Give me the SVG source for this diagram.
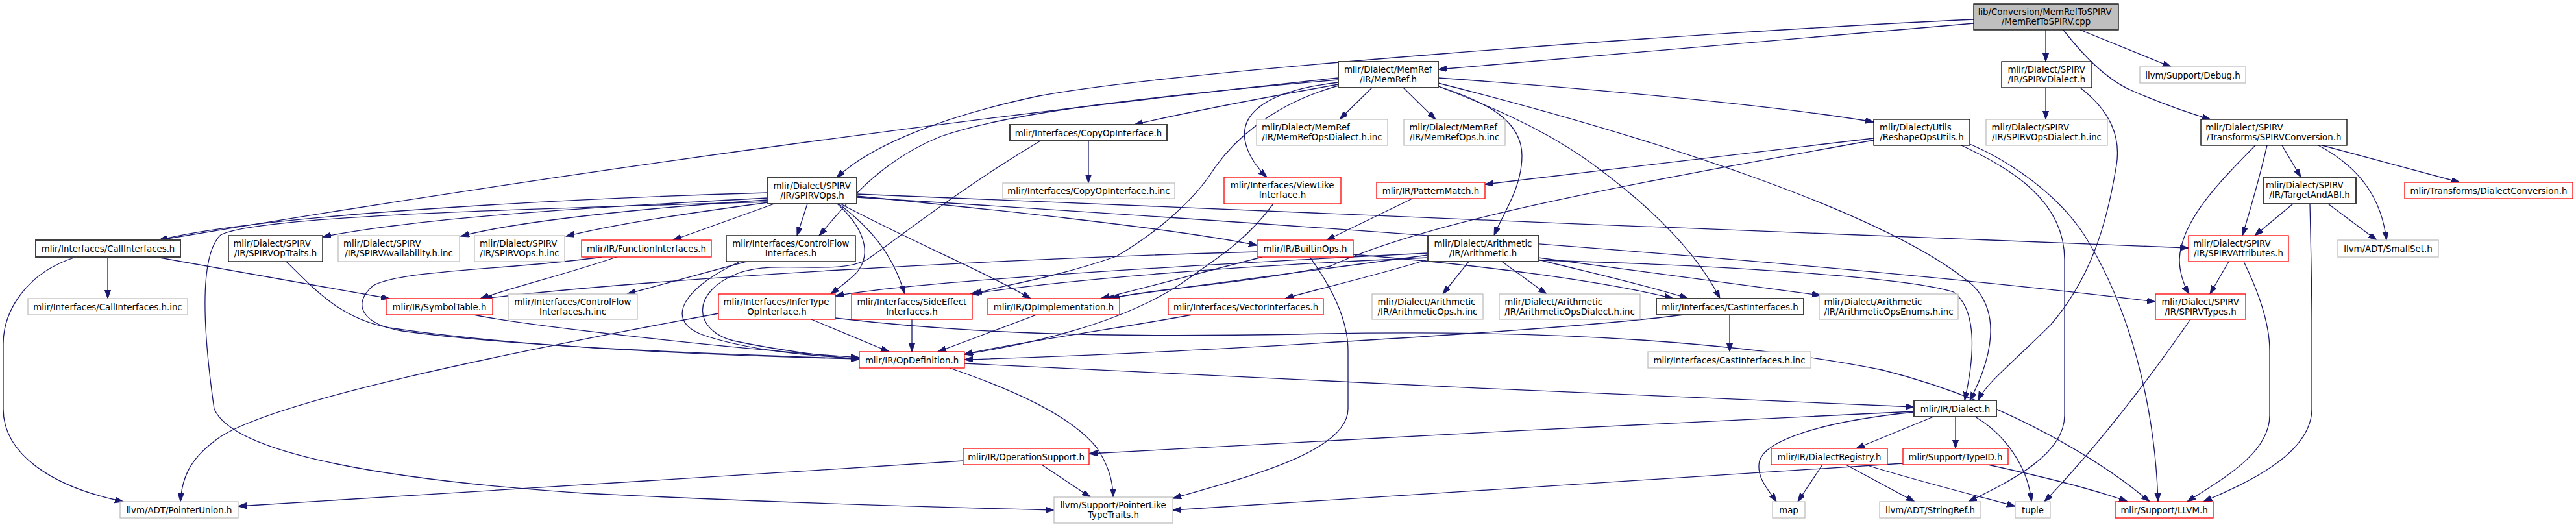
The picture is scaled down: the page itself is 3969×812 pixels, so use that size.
<svg xmlns="http://www.w3.org/2000/svg" width="3969" height="812" viewBox="0 0 3969 812">
<style>
.nd rect{fill:#fff;stroke:#000;stroke-width:1.3}
.nd.g rect{stroke:#bfbfbf}
.nd.r rect{stroke:#ff0000}
.nd.d rect{stroke:#404040;stroke-width:2}
.nd.top rect{fill:#bfbfbf}
text{font-family:"DejaVu Sans","Liberation Sans",sans-serif;font-size:13.33px;fill:#000}
text.c{text-anchor:middle}
#edges path{fill:none;stroke:#191970;stroke-width:1.3;marker-end:url(#a)}
</style>
<defs>
<marker id="a" markerUnits="userSpaceOnUse" markerWidth="14" markerHeight="10" refX="13" refY="4.5" orient="auto"><path d="M0,0L13,4.5L0,9z" fill="#191970" stroke="#191970" stroke-width="1"/></marker>
</defs>
<rect width="3969" height="812" fill="#fff"/>
<g id="edges">
<path d="M3041,36 L2216,107"/>
<path d="M3152,46 L3152,95"/>
<path d="M3205,46 L3345,103"/>
<path d="M3179,46 C3225,105 3260,130 3290,142 C3340,163 3375,175 3406,184"/>
<path d="M3041,30 C2600,50 1800,110 1600,148 C1450,180 1340,225 1289,274"/>
<path d="M2062,130 C1950,150 1820,175 1748,192"/>
<path d="M2114,135 L2064,184"/>
<path d="M2162,135 L2212,184"/>
<path d="M2216,120 C2500,140 2750,165 2887,188"/>
<path d="M2062,127 C1950,140 1912,175 1918,215 C1922,240 1940,262 1952,273"/>
<path d="M2216,133 C2300,160 2345,190 2345,240 C2345,290 2315,330 2302,363"/>
<path d="M2216,133 C2300,165 2380,200 2450,250 C2560,330 2620,400 2650,460"/>
<path d="M2216,128 C2500,200 2900,320 3040,440 C3090,490 3060,570 3035,617"/>
<path d="M2062,120 C1500,180 900,260 245,370"/>
<path d="M2062,123 C1750,150 1550,175 1450,210 C1350,250 1300,320 1262,363"/>
<path d="M2062,132 C1955,162 1895,222 1866,267 C1836,312 1780,360 1720,395 C1620,430 1540,440 1500,453"/>
<path d="M1183,297 C900,305 400,330 245,370"/>
<path d="M1183,305 C900,320 650,335 497,365"/>
<path d="M1183,308 C1000,320 800,340 710,364"/>
<path d="M1183,312 C1050,330 950,345 872,364"/>
<path d="M1183,311 C900,320 400,330 340,362 C300,400 320,560 330,630 C360,700 600,740 900,760 C1200,775 1500,783 1624,786"/>
<path d="M1193,314 L1037,370"/>
<path d="M1244,314 L1228,363"/>
<path d="M1290,314 C1330,350 1345,390 1320,420 C1305,435 1290,445 1280,453"/>
<path d="M1292,314 C1340,350 1375,390 1394,453"/>
<path d="M1295,314 C1400,370 1520,420 1588,460"/>
<path d="M1320,302 C1500,320 1800,350 1937,378"/>
<path d="M1320,299 C1800,320 2800,360 3372,382"/>
<path d="M1320,304 C1900,340 2800,400 3321,465"/>
<path d="M950,396 C880,420 800,440 740,460"/>
<path d="M927,396 C800,415 620,415 575,440 C540,470 560,500 620,510 C800,535 1100,545 1324,553"/>
<path d="M441,403 C480,440 520,490 600,505 C800,535 1100,548 1324,553"/>
<path d="M730,485 C800,500 1100,535 1324,551"/>
<path d="M1150,403 L966,453"/>
<path d="M1140,403 C1060,440 1020,490 1080,515 C1150,540 1250,548 1324,553"/>
<path d="M1677,217 L1677,282"/>
<path d="M1603,217 C1480,290 1380,370 1336,400 C1290,425 1200,400 1140,420 C1060,450 1070,510 1130,525 C1200,540 1270,548 1324,554"/>
<path d="M1107,483 C800,540 400,620 330,680 C290,710 280,740 278,773"/>
<path d="M1250,492 L1370,542"/>
<path d="M1287,490 C1500,515 1700,520 2000,515 C2400,505 2700,530 2900,570 C3100,620 3250,720 3312,773"/>
<path d="M1405,492 L1405,542"/>
<path d="M1597,485 L1445,542"/>
<path d="M1837,485 C1700,510 1550,530 1486,546"/>
<path d="M1962,314 C1920,370 1880,395 1830,430 C1760,480 1650,520 1486,546"/>
<path d="M2594,485 C2400,510 1800,545 1486,554"/>
<path d="M2665,485 L2665,542"/>
<path d="M1486,560 C1900,580 2500,610 2949,627"/>
<path d="M1463,567 C1560,600 1650,640 1690,690 C1710,720 1715,745 1715,766"/>
<path d="M2949,634 C2600,650 2000,680 1678,699"/>
<path d="M2949,635 C2800,650 2720,680 2711,710 C2705,735 2725,755 2737,773"/>
<path d="M2979,642 L2860,691"/>
<path d="M3013,642 L3013,691"/>
<path d="M3043,642 C3090,670 3125,720 3130,773"/>
<path d="M2808,716 L2770,773"/>
<path d="M2844,716 L2950,773"/>
<path d="M2874,716 C2950,740 3050,765 3105,780"/>
<path d="M2932,714 C2500,745 2100,770 1807,786"/>
<path d="M3063,716 C3150,735 3230,755 3278,773"/>
<path d="M1484,710 C1100,735 700,760 367,780"/>
<path d="M1605,716 L1680,766"/>
<path d="M166,396 L166,460"/>
<path d="M240,396 L600,460"/>
<path d="M117,396 C40,420 5,480 5,530 L5,630 C5,700 80,750 190,773"/>
<path d="M3375,492 C3300,600 3220,700 3150,773"/>
<path d="M3434,403 L3405,453"/>
<path d="M3457,403 C3480,450 3497,500 3497,540 L3497,640 C3497,700 3420,740 3370,773"/>
<path d="M3533,314 L3474,363"/>
<path d="M3587,314 L3662,370"/>
<path d="M3559,314 C3561,400 3562,450 3562,500 L3562,630 C3562,700 3460,745 3395,773"/>
<path d="M3516,224 L3545,273"/>
<path d="M3578,224 L3790,281"/>
<path d="M3572,224 C3640,260 3670,310 3677,370"/>
<path d="M3493,224 C3480,280 3465,330 3455,363"/>
<path d="M3475,224 C3420,280 3360,340 3358,400 C3358,420 3365,440 3373,453"/>
<path d="M3152,135 L3152,184"/>
<path d="M3205,135 C3250,170 3270,210 3260,260 C3245,350 3220,430 3160,500 C3100,560 3060,590 3048,617"/>
<path d="M2887,213 L2288,284"/>
<path d="M2887,216 C2500,285 2200,340 2050,410 C1900,440 1770,445 1712,460"/>
<path d="M3022,224 C3100,260 3181,310 3181,400 L3181,640 C3181,700 3100,740 3033,773"/>
<path d="M3035,222 C3100,250 3170,300 3210,360 C3280,470 3320,620 3325,773"/>
<path d="M2263,403 L2223,453"/>
<path d="M2314,403 L2383,453"/>
<path d="M2370,397 C2550,420 2700,440 2805,455"/>
<path d="M2370,400 C2450,420 2540,440 2601,460"/>
<path d="M2370,401 C2700,410 2950,430 3010,450 C3050,480 3040,560 3027,617"/>
<path d="M2200,400 C2100,430 2030,445 1980,460"/>
<path d="M2200,393 C2000,420 1800,445 1705,460"/>
<path d="M2200,397 C1900,410 1650,430 1495,453"/>
<path d="M2200,390 C1800,410 1400,435 1287,456"/>
<path d="M1937,388 C1500,400 1000,430 745,460"/>
<path d="M2018,396 C2050,440 2077,490 2077,540 L2077,630 C2077,700 1900,740 1807,768"/>
<path d="M2085,392 C2300,410 2480,435 2578,460"/>
<path d="M1945,396 C1850,420 1760,445 1696,460"/>
<path d="M2176,306 L2044,370"/>
</g>
<g id="nodes">
<g id="n0" class="nd top"><rect x="3041" y="6" width="223" height="40"/><text x="3047.7" y="22.5">lib/Conversion/MemRefToSPIRV</text><text class="c" x="3152.5" y="37.5">/MemRefToSPIRV.cpp</text></g>
<g id="n1" class="nd d"><rect x="2062" y="95" width="154" height="40"/><text x="2070.9" y="111.5">mlir/Dialect/MemRef</text><text class="c" x="2139" y="126.5">/IR/MemRef.h</text></g>
<g id="n2" class="nd"><rect x="3084" y="95" width="139" height="40"/><text x="3093.4" y="111.5">mlir/Dialect/SPIRV</text><text class="c" x="3153.5" y="126.5">/IR/SPIRVDialect.h</text></g>
<g id="n3" class="nd g"><rect x="3297" y="103" width="163" height="25"/><text class="c" x="3378.5" y="120.5">llvm/Support/Debug.h</text></g>
<g id="n4" class="nd d"><rect x="1556" y="192" width="242" height="25"/><text class="c" x="1677" y="209.5">mlir/Interfaces/CopyOpInterface.h</text></g>
<g id="n5" class="nd g"><rect x="1936" y="184" width="202" height="40"/><text x="1944.1" y="200.5">mlir/Dialect/MemRef</text><text class="c" x="2037" y="215.5">/IR/MemRefOpsDialect.h.inc</text></g>
<g id="n6" class="nd g"><rect x="2163" y="184" width="156" height="40"/><text x="2171.4" y="200.5">mlir/Dialect/MemRef</text><text class="c" x="2241" y="215.5">/IR/MemRefOps.h.inc</text></g>
<g id="n7" class="nd"><rect x="2887" y="184" width="148" height="40"/><text x="2896" y="200.5">mlir/Dialect/Utils</text><text class="c" x="2961" y="215.5">/ReshapeOpsUtils.h</text></g>
<g id="n8" class="nd g"><rect x="3060" y="184" width="187" height="40"/><text x="3068.6" y="200.5">mlir/Dialect/SPIRV</text><text class="c" x="3153.5" y="215.5">/IR/SPIRVOpsDialect.h.inc</text></g>
<g id="n9" class="nd"><rect x="3391" y="184" width="225" height="40"/><text x="3398.2" y="200.5">mlir/Dialect/SPIRV</text><text class="c" x="3503.5" y="215.5">/Transforms/SPIRVConversion.h</text></g>
<g id="n10" class="nd d"><rect x="1183" y="274" width="137" height="40"/><text x="1191.4" y="290.5">mlir/Dialect/SPIRV</text><text class="c" x="1251.5" y="305.5">/IR/SPIRVOps.h</text></g>
<g id="n11" class="nd g"><rect x="1545" y="282" width="265" height="24"/><text class="c" x="1677.5" y="299">mlir/Interfaces/CopyOpInterface.h.inc</text></g>
<g id="n12" class="nd r"><rect x="1886" y="273" width="180" height="41"/><text x="1895.8" y="289.5">mlir/Interfaces/ViewLike</text><text class="c" x="1976" y="304.5">Interface.h</text></g>
<g id="n13" class="nd r"><rect x="2121" y="281" width="167" height="25"/><text class="c" x="2204.5" y="298.5">mlir/IR/PatternMatch.h</text></g>
<g id="n14" class="nd d"><rect x="3487" y="273" width="143" height="41"/><text x="3491.1" y="289.5">mlir/Dialect/SPIRV</text><text class="c" x="3558.5" y="304.5">/IR/TargetAndABI.h</text></g>
<g id="n15" class="nd r"><rect x="3705" y="281" width="259" height="25"/><text class="c" x="3834.5" y="298.5">mlir/Transforms/DialectConversion.h</text></g>
<g id="n16" class="nd d"><rect x="55" y="370" width="223" height="26"/><text class="c" x="166.5" y="387.5">mlir/Interfaces/CallInterfaces.h</text></g>
<g id="n17" class="nd"><rect x="352" y="363" width="145" height="40"/><text x="359.4" y="379.5">mlir/Dialect/SPIRV</text><text class="c" x="424.5" y="394.5">/IR/SPIRVOpTraits.h</text></g>
<g id="n18" class="nd g"><rect x="521" y="363" width="187" height="40"/><text x="529.1" y="379.5">mlir/Dialect/SPIRV</text><text class="c" x="614.5" y="394.5">/IR/SPIRVAvailability.h.inc</text></g>
<g id="n19" class="nd g"><rect x="731" y="363" width="139" height="40"/><text x="738.9" y="379.5">mlir/Dialect/SPIRV</text><text class="c" x="800.5" y="394.5">/IR/SPIRVOps.h.inc</text></g>
<g id="n20" class="nd r"><rect x="896" y="370" width="200" height="26"/><text class="c" x="996" y="387.5">mlir/IR/FunctionInterfaces.h</text></g>
<g id="n21" class="nd"><rect x="1119" y="363" width="199" height="40"/><text x="1128.3" y="379.5">mlir/Interfaces/ControlFlow</text><text class="c" x="1218.5" y="394.5">Interfaces.h</text></g>
<g id="n22" class="nd r"><rect x="1937" y="370" width="148" height="26"/><text class="c" x="2011" y="387.5">mlir/IR/BuiltinOps.h</text></g>
<g id="n23" class="nd d"><rect x="2200" y="363" width="170" height="40"/><text x="2209.6" y="379.5">mlir/Dialect/Arithmetic</text><text class="c" x="2285" y="394.5">/IR/Arithmetic.h</text></g>
<g id="n24" class="nd r"><rect x="3372" y="363" width="154" height="40"/><text x="3379.2" y="379.5">mlir/Dialect/SPIRV</text><text class="c" x="3449" y="394.5">/IR/SPIRVAttributes.h</text></g>
<g id="n25" class="nd g"><rect x="3602" y="370" width="155" height="26"/><text class="c" x="3679.5" y="387.5">llvm/ADT/SmallSet.h</text></g>
<g id="n26" class="nd g"><rect x="43" y="460" width="246" height="25"/><text class="c" x="166" y="477.5">mlir/Interfaces/CallInterfaces.h.inc</text></g>
<g id="n27" class="nd r"><rect x="595" y="460" width="164" height="25"/><text class="c" x="677" y="477.5">mlir/IR/SymbolTable.h</text></g>
<g id="n28" class="nd g"><rect x="783" y="453" width="199" height="39"/><text x="792.3" y="469.5">mlir/Interfaces/ControlFlow</text><text class="c" x="882.5" y="484.5">Interfaces.h.inc</text></g>
<g id="n29" class="nd r"><rect x="1107" y="453" width="180" height="39"/><text x="1114.6" y="469.5">mlir/Interfaces/InferType</text><text class="c" x="1197" y="484.5">OpInterface.h</text></g>
<g id="n30" class="nd r"><rect x="1312" y="453" width="186" height="39"/><text x="1320.6" y="469.5">mlir/Interfaces/SideEffect</text><text class="c" x="1405" y="484.5">Interfaces.h</text></g>
<g id="n31" class="nd r"><rect x="1522" y="460" width="203" height="25"/><text class="c" x="1623.5" y="477.5">mlir/IR/OpImplementation.h</text></g>
<g id="n32" class="nd r"><rect x="1800" y="460" width="239" height="25"/><text class="c" x="1919.5" y="477.5">mlir/Interfaces/VectorInterfaces.h</text></g>
<g id="n33" class="nd g"><rect x="2114" y="453" width="171" height="39"/><text x="2122.6" y="469.5">mlir/Dialect/Arithmetic</text><text class="c" x="2199.5" y="484.5">/IR/ArithmeticOps.h.inc</text></g>
<g id="n34" class="nd g"><rect x="2310" y="453" width="217" height="39"/><text x="2318.3" y="469.5">mlir/Dialect/Arithmetic</text><text class="c" x="2418.5" y="484.5">/IR/ArithmeticOpsDialect.h.inc</text></g>
<g id="n35" class="nd d"><rect x="2552" y="460" width="227" height="25"/><text class="c" x="2665.5" y="477.5">mlir/Interfaces/CastInterfaces.h</text></g>
<g id="n36" class="nd g"><rect x="2803" y="453" width="214" height="39"/><text x="2810.4" y="469.5">mlir/Dialect/Arithmetic</text><text class="c" x="2910" y="484.5">/IR/ArithmeticOpsEnums.h.inc</text></g>
<g id="n37" class="nd r"><rect x="3321" y="453" width="139" height="39"/><text x="3330.4" y="469.5">mlir/Dialect/SPIRV</text><text class="c" x="3390.5" y="484.5">/IR/SPIRVTypes.h</text></g>
<g id="n38" class="nd r"><rect x="1324" y="542" width="162" height="25"/><text class="c" x="1405" y="559.5">mlir/IR/OpDefinition.h</text></g>
<g id="n39" class="nd g"><rect x="2539" y="542" width="251" height="25"/><text class="c" x="2664.5" y="559.5">mlir/Interfaces/CastInterfaces.h.inc</text></g>
<g id="n40" class="nd d"><rect x="2949" y="617" width="127" height="25"/><text class="c" x="3012.5" y="634.5">mlir/IR/Dialect.h</text></g>
<g id="n41" class="nd r"><rect x="1484" y="691" width="194" height="25"/><text class="c" x="1581" y="708.5">mlir/IR/OperationSupport.h</text></g>
<g id="n42" class="nd r"><rect x="2729" y="691" width="179" height="25"/><text class="c" x="2818.5" y="708.5">mlir/IR/DialectRegistry.h</text></g>
<g id="n43" class="nd r"><rect x="2932" y="691" width="162" height="25"/><text class="c" x="3013" y="708.5">mlir/Support/TypeID.h</text></g>
<g id="n44" class="nd g"><rect x="185" y="773" width="182" height="25"/><text class="c" x="276" y="790.5">llvm/ADT/PointerUnion.h</text></g>
<g id="n45" class="nd g"><rect x="1624" y="766" width="183" height="40"/><text x="1633.4" y="782.5">llvm/Support/PointerLike</text><text class="c" x="1715.5" y="797.5">TypeTraits.h</text></g>
<g id="n46" class="nd g"><rect x="2731" y="773" width="50" height="25"/><text class="c" x="2756" y="790.5">map</text></g>
<g id="n47" class="nd g"><rect x="2896" y="773" width="156" height="25"/><text class="c" x="2974" y="790.5">llvm/ADT/StringRef.h</text></g>
<g id="n48" class="nd g"><rect x="3105" y="773" width="54" height="25"/><text class="c" x="3132" y="790.5">tuple</text></g>
<g id="n49" class="nd r"><rect x="3259" y="773" width="151" height="25"/><text class="c" x="3334.5" y="790.5">mlir/Support/LLVM.h</text></g>
</g>
</svg>
